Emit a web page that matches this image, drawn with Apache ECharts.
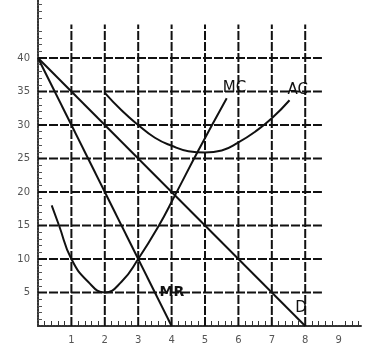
<!DOCTYPE html>
<html>
<head>
<meta charset="utf-8">
<script src="https://cdn.jsdelivr.net/npm/echarts@6/dist/echarts.min.js"></script>
<style>
  html, body { margin: 0; padding: 0; background: #fff; }
  #chart { width: 365px; height: 353px; }
</style>
</head>
<body>
<div id="chart"></div>
<script>
// ---- data ----
const xTicks = [1, 2, 3, 4, 5, 6, 7, 8, 9];
const yTicks = [5, 10, 15, 20, 25, 30, 35, 40];
const gridXs = [1, 2, 3, 4, 5, 6, 7, 8];
const gridYs = [5, 10, 15, 20, 25, 30, 35, 40];
const gridTop = 45;     // vertical grid lines go up to here
const gridRight = 8.5;  // horizontal grid lines stop here

const demand = [[0, 40], [8, 0]];
const marginalRevenue = [[0, 40], [4, 0]];
const marginalCost = [
  [0.41, 18], [0.63, 15], [1, 10], [1.5, 6.6], [2, 5], [2.5, 6.6], [3, 10],
  [3.62, 15], [4.1, 19.5], [4.8, 26.2], [5.65, 34]
];
const averageCost = [
  [2, 34.8], [2.5, 32.2], [3, 30], [3.5, 28.1], [4, 26.9], [4.5, 26.1],
  [5, 25.9], [5.5, 26.2], [6, 27.4], [6.5, 29], [7, 31], [7.53, 33.7]
];

// ---- chart ----
const ink = "#111";
const font = "DejaVu Sans";

function gridSeries() {
  const dash = { color: ink, width: 2, type: [9, 2] };
  const v = gridXs.map(x => ({
    type: "line", data: [[x, 0], [x, gridTop]], symbol: "none",
    lineStyle: dash, silent: true, z: 1,
  }));
  const h = gridYs.map(y => ({
    type: "line", data: [[0, y], [gridRight, y]], symbol: "none",
    lineStyle: dash, silent: true, z: 1,
  }));
  return v.concat(h);
}

function curve(data, name, smooth, label) {
  return {
    type: "line", name, data, symbol: "none", smooth,
    lineStyle: { color: ink, width: 2 }, z: 3,
    endLabel: Object.assign({
      show: true, formatter: name, color: ink,
      fontFamily: font, fontSize: 15,
    }, label),
  };
}

const chart = echarts.init(document.getElementById("chart"));
chart.setOption({
  animation: false,
  grid: { left: 38, right: 0, top: 0, bottom: 27 },
  xAxis: {
    type: "value", min: 0, max: 9.7, interval: 1,
    axisLine: { lineStyle: { color: "#333", width: 2, type: [2, 1] } },
    axisTick: { show: false, inside: true },
    minorTick: { show: true, splitNumber: 5, length: 5, lineStyle: { color: "#333", width: 1 } },
    splitLine: { show: false },
    axisLabel: {
      color: "#555", fontFamily: font, fontSize: 10, margin: 9,
      formatter: v => (xTicks.includes(v) ? String(v) : ""),
    },
  },
  yAxis: {
    type: "value", min: 0, max: 48.66, interval: 5,
    axisLine: { lineStyle: { color: "#333", width: 2, type: [2, 1] } },
    axisTick: { show: false, inside: true },
    minorTick: { show: true, splitNumber: 5, length: 4, lineStyle: { color: "#555", width: 1 } },
    splitLine: { show: false },
    axisLabel: {
      color: "#555", fontFamily: font, fontSize: 10, margin: 8,
      formatter: v => (yTicks.includes(v) ? String(v) : ""),
    },
  },
  series: gridSeries().concat([
    curve(demand, "D", false, { offset: [-18, -18] }),
    curve(marginalRevenue, "MR", false, { offset: [-20, -34], fontSize: 14, fontWeight: "bold" }),
    curve(marginalCost, "MC", true, { offset: [-12, -10] }),
    curve(averageCost, "AC", true, { offset: [-10, -10] }),
  ]),
});
</script>
</body>
</html>
